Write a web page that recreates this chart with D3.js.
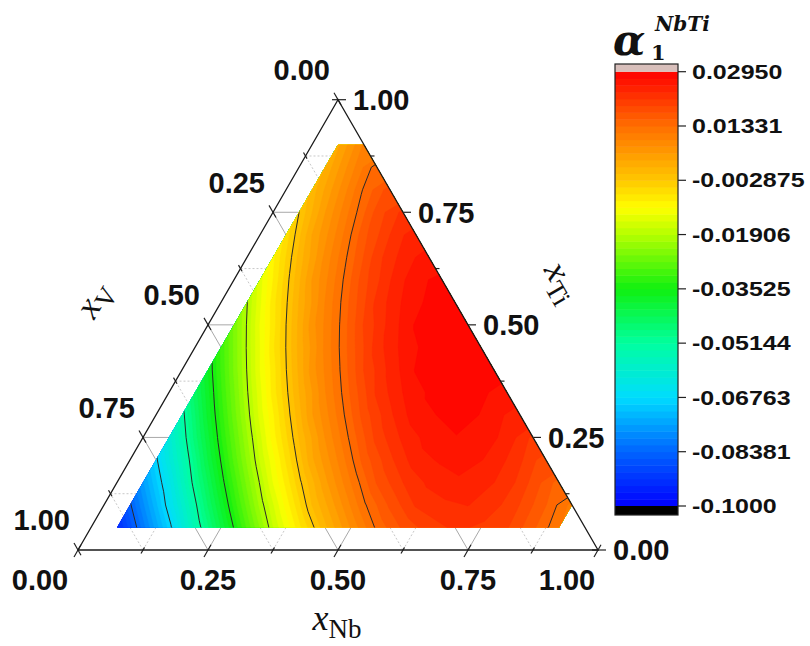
<!DOCTYPE html>
<html><head><meta charset="utf-8">
<script src="https://cdn.jsdelivr.net/npm/d3@7"></script>
<style>body{margin:0;background:#fff;overflow:hidden}</style>
</head><body>
<svg id="c" width="810" height="646"></svg>
<script>
// ---------------- data ----------------
const axisTicks = [0, 0.25, 0.5, 0.75, 1];
const axisTickLabels = ["0.00", "0.25", "0.50", "0.75", "1.00"];
const cbTicks = [0.02950, 0.01331, -0.002875, -0.01906, -0.03525, -0.05144, -0.06763, -0.08381, -0.1000];
const cbTickLabels = ["0.02950", "0.01331", "-0.002875", "-0.01906", "-0.03525", "-0.05144", "-0.06763", "-0.08381", "-0.1000"];
const lineLevels = [-0.08381, -0.06763, -0.05144, -0.03525, -0.01906, -0.002875, 0.01331];
const valueMin = -0.1000, valueMax = 0.02950;

const gridNb = [0.05, 0.10, 0.15, 0.20, 0.25, 0.30, 0.35, 0.40, 0.45, 0.50, 0.55, 0.60, 0.65, 0.70, 0.75, 0.80, 0.85, 0.90];
const gridTi = [0.05, 0.10, 0.15, 0.20, 0.25, 0.30, 0.35, 0.40, 0.45, 0.50, 0.55, 0.60, 0.65, 0.70, 0.75, 0.80, 0.85, 0.90];
const ti05 = [-0.0930, -0.0809, -0.0690, -0.0544, -0.0412, -0.0288, -0.0172, -0.0077, 0.0006, 0.0075, 0.0139, 0.0178, 0.0205, 0.0218, 0.0211, 0.0196, 0.0158, 0.0116];
const ti10 = [-0.0843, -0.0724, -0.0594, -0.0452, -0.0325, -0.0205, -0.0102, -0.0008, 0.0061, 0.0129, 0.0178, 0.0217, 0.0229, 0.0235, 0.0222, 0.0193, 0.0154, 0.0104];
const ti15 = [-0.0761, -0.0643, -0.0498, -0.0367, -0.0245, -0.0130, -0.0036, 0.0045, 0.0113, 0.0176, 0.0214, 0.0239, 0.0251, 0.0243, 0.0226, 0.0187, 0.0143];
const ti20 = [-0.0683, -0.0554, -0.0413, -0.0287, -0.0168, -0.0067, 0.0027, 0.0094, 0.0162, 0.0209, 0.0246, 0.0258, 0.0263, 0.0248, 0.0218, 0.0179];
const ti25 = [-0.0609, -0.0465, -0.0335, -0.0214, -0.0100, -0.0007, 0.0073, 0.0140, 0.0202, 0.0239, 0.0263, 0.0274, 0.0266, 0.0248, 0.0208];
const ti30 = [-0.0527, -0.0387, -0.0262, -0.0143, -0.0043, 0.0050, 0.0117, 0.0183, 0.0230, 0.0267, 0.0277, 0.0281, 0.0266, 0.0236];
const ti35 = [-0.0445, -0.0316, -0.0194, -0.0081, 0.0011, 0.0091, 0.0157, 0.0219, 0.0255, 0.0278, 0.0289, 0.0280, 0.0262];
const ti40 = [-0.0373, -0.0248, -0.0130, -0.0030, 0.0062, 0.0128, 0.0195, 0.0241, 0.0277, 0.0288, 0.0291, 0.0276];
const ti45 = [-0.0308, -0.0187, -0.0074, 0.0018, 0.0097, 0.0163, 0.0225, 0.0261, 0.0284, 0.0294, 0.0285];
const ti50 = [-0.0247, -0.0129, -0.0029, 0.0063, 0.0129, 0.0196, 0.0242, 0.0278, 0.0289, 0.0292];
const ti55 = [-0.0192, -0.0079, 0.0013, 0.0093, 0.0159, 0.0221, 0.0257, 0.0280, 0.0291];
const ti60 = [-0.0140, -0.0039, 0.0053, 0.0120, 0.0186, 0.0233, 0.0270, 0.0280];
const ti65 = [-0.0095, -0.0002, 0.0078, 0.0144, 0.0206, 0.0243, 0.0267];
const ti70 = [-0.0061, 0.0032, 0.0099, 0.0167, 0.0214, 0.0251];
const ti75 = [-0.0029, 0.0051, 0.0119, 0.0182, 0.0220];
const ti80 = [0.0000, 0.0068, 0.0137, 0.0185];
const ti85 = [0.0014, 0.0083, 0.0147];
const ti90 = [0.0027, 0.0096];
const valueRows = [ti05, ti10, ti15, ti20, ti25, ti30, ti35, ti40, ti45, ti50, ti55, ti60, ti65, ti70, ti75, ti80, ti85, ti90];
// composition domain that carries data: corners as [x_Nb, x_Ti]
const domainNb = [0.05, 0.90, 0.90, 0.10, 0.05];
const domainTi = [0.05, 0.05, 0.10, 0.90, 0.90];

// colour map stops
const cStops = [-0.1, -0.08381, -0.06763, -0.05144, -0.03525, -0.01906, -0.0110, -0.002875, 0.01331, 0.0295];
const cColors = ["#0000ff", "#0064ff", "#00dcff", "#00ffa0", "#10f010", "#b4ff00", "#ffff00", "#ffc800", "#ff6e00", "#ff0000"];

// ---------------- drawing ----------------
const svg = d3.select("#c");
const xS = d3.scaleLinear().domain([0, 1]).range([78, 598]);
const yS = d3.scaleLinear().domain([0, 1]).range([550, 99.7]);
const P = (u, t) => [xS(u + t / 2), yS(t)];
const color = d3.scaleLinear().domain(cStops).range(cColors).clamp(true);
const nLev = 64;
const thr = d3.range(nLev + 1).map(i => valueMin + i * (valueMax - valueMin) / nLev);
const isMajor = a => Math.abs(a * 4 - Math.round(a * 4)) < 1e-9;

// grid lines
const gridG = svg.append("g");
d3.range(1, 8).map(i => i / 8).forEach(a => {
  const maj = isMajor(a);
  const segs = [[P(a, 0), P(a, 1 - a)], [P(0, a), P(1 - a, a)], [P(1 - a, 0), P(0, 1 - a)]];
  segs.forEach(s => gridG.append("line").attr("x1", s[0][0]).attr("y1", s[0][1]).attr("x2", s[1][0]).attr("y2", s[1][1])
    .attr("stroke", maj ? "#a8a8a8" : "#c8c8c8").attr("stroke-width", 1)
    .attr("stroke-dasharray", maj ? null : "2,2"));
});

// ticks
const tickG = svg.append("g").attr("stroke", "#222").attr("stroke-width", 1.2);
d3.range(0, 9).map(i => i / 8).forEach(a => {
  const maj = isMajor(a);
  const lo = maj ? 8 : 4, li = maj ? 6 : 3;
  const dirs = [[P(a, 0), [-0.5, 0.866]], [P(1 - a, a), [1, 0]], [P(0, 1 - a), [-0.5, -0.866]]];
  dirs.forEach(([p, d]) => tickG.append("line")
    .attr("x1", p[0] - d[0] * li).attr("y1", p[1] - d[1] * li)
    .attr("x2", p[0] + d[0] * lo).attr("y2", p[1] + d[1] * lo));
});

// contour fill (grid padded beyond the x_V = 0 edge with the edge value; clipped to the data domain)
const n = gridNb.length, m = gridTi.length;
const flat = [];
for (let j = 0; j < m; j++) for (let i = 0; i < n; i++) {
  const row = valueRows[j];
  flat.push(i < row.length ? row[i] : row[row.length - 1]);
}
const step = gridNb[1] - gridNb[0];
const proj = d3.geoTransform({ point: function (cx, cy) {
  const u = gridNb[0] + (cx - 0.5) * step, t = gridTi[0] + (cy - 0.5) * step;
  const p = P(u, t); this.stream.point(p[0], p[1]); } });
const path = d3.geoPath(proj);
const region = domainNb.map((u, i) => P(u, domainTi[i]));
svg.append("clipPath").attr("id", "reg").append("path").attr("d", "M" + region.join("L") + "Z");
const fillG = svg.append("g").attr("clip-path", "url(#reg)");
const bands = d3.contours().size([n, m]).thresholds(thr.slice(0, -1))(flat);
fillG.selectAll("path.b").data(bands).join("path").attr("class", "b")
  .attr("d", path).attr("fill", (d, i) => color((thr[i] + thr[i + 1]) / 2))
  .attr("stroke", (d, i) => color((thr[i] + thr[i + 1]) / 2)).attr("stroke-width", 0.5);
const lines = d3.contours().size([n, m]).thresholds(lineLevels)(flat);
fillG.selectAll("path.l").data(lines).join("path").attr("class", "l")
  .attr("d", path).attr("fill", "none").attr("stroke", "#2a2a2a").attr("stroke-width", 1);

// triangle frame
const tri = [P(0, 0), P(1, 0), P(0, 1)];
svg.append("path").attr("d", "M" + tri.join("L") + "Z").attr("fill", "none").attr("stroke", "#1a1a1a").attr("stroke-width", 1.3);

// tick labels
const lab = svg.append("g").attr("font-family", "Liberation Sans, Arial, sans-serif").attr("font-weight", "bold").attr("font-size", 29).attr("fill", "#111");
axisTicks.forEach((a, i) => {
  const pb = P(a, 0);
  const dx = i === 0 ? -38 : (i === axisTicks.length - 1 ? -31 : 0);
  lab.append("text").attr("x", pb[0] + dx).attr("y", pb[1] + 40).attr("text-anchor", "middle").text(axisTickLabels[i]);
  const pr = P(1 - a, a);
  lab.append("text").attr("x", pr[0] + 15).attr("y", pr[1]).attr("dy", "0.36em").text(axisTickLabels[i]);
  const pl = P(0, 1 - a);
  lab.append("text").attr("x", pl[0] - 8).attr("y", pl[1] - 30).attr("dy", "0.36em").attr("text-anchor", "end").text(axisTickLabels[i]);
});

// axis titles
function axTitle(x, y, rot, sub) {
  const t = svg.append("text").attr("transform", `translate(${x},${y}) rotate(${rot})`)
    .attr("font-family", "Liberation Serif, Times New Roman, serif").attr("fill", "#111").attr("text-anchor", "middle");
  t.append("tspan").attr("font-style", "italic").attr("font-size", 36).text("x");
  t.append("tspan").attr("font-size", 27).attr("dy", 8).text(sub);
}
axTitle(337, 630, 0, "Nb");
axTitle(103, 305, -60, "V");
axTitle(553, 287, 60, "Ti");

// colour bar
const cbX = 615, cbW = 63;
const cbY = d3.scaleLinear().domain([valueMin, valueMax]).range([506, 71.7]);
const cb = svg.append("g");
thr.slice(0, -1).forEach((v, i) => cb.append("rect").attr("x", cbX).attr("width", cbW)
  .attr("y", cbY(thr[i + 1])).attr("height", cbY(thr[i]) - cbY(thr[i + 1]) + 0.5).attr("fill", color((v + thr[i + 1]) / 2)));
cb.append("rect").attr("x", cbX).attr("width", cbW).attr("y", 64).attr("height", cbY(valueMax) - 64).attr("fill", "#d8bfbb");
cb.append("rect").attr("x", cbX).attr("width", cbW).attr("y", cbY(valueMin)).attr("height", 9).attr("fill", "#000");
cb.append("rect").attr("x", cbX).attr("width", cbW).attr("y", 64).attr("height", 451).attr("fill", "none").attr("stroke", "#222").attr("stroke-width", 1.2);
cbTicks.forEach((v, i) => {
  cb.append("line").attr("x1", cbX + cbW).attr("x2", cbX + cbW + 8).attr("y1", cbY(v)).attr("y2", cbY(v)).attr("stroke", "#222").attr("stroke-width", 1.2);
  cb.append("text").attr("transform", `translate(${cbX + cbW + 14},${cbY(v)}) scale(1.25,1)`).attr("dy", "0.36em")
    .attr("font-family", "Liberation Sans, Arial, sans-serif").attr("font-weight", "bold").attr("font-size", 20).attr("fill", "#111").text(cbTickLabels[i]);
});
// colour bar title
const tt = svg.append("g").attr("font-family", "DejaVu Serif, serif").attr("font-weight", "bold").attr("font-style", "italic").attr("fill", "#111");
tt.append("text").attr("x", 613).attr("y", 55).attr("font-size", 42).text("α");
tt.append("text").attr("x", 651).attr("y", 60).attr("font-size", 21).attr("font-style", "normal").text("1");
tt.append("text").attr("x", 655).attr("y", 31).attr("font-size", 20).text("NbTi");
</script>
</body></html>
